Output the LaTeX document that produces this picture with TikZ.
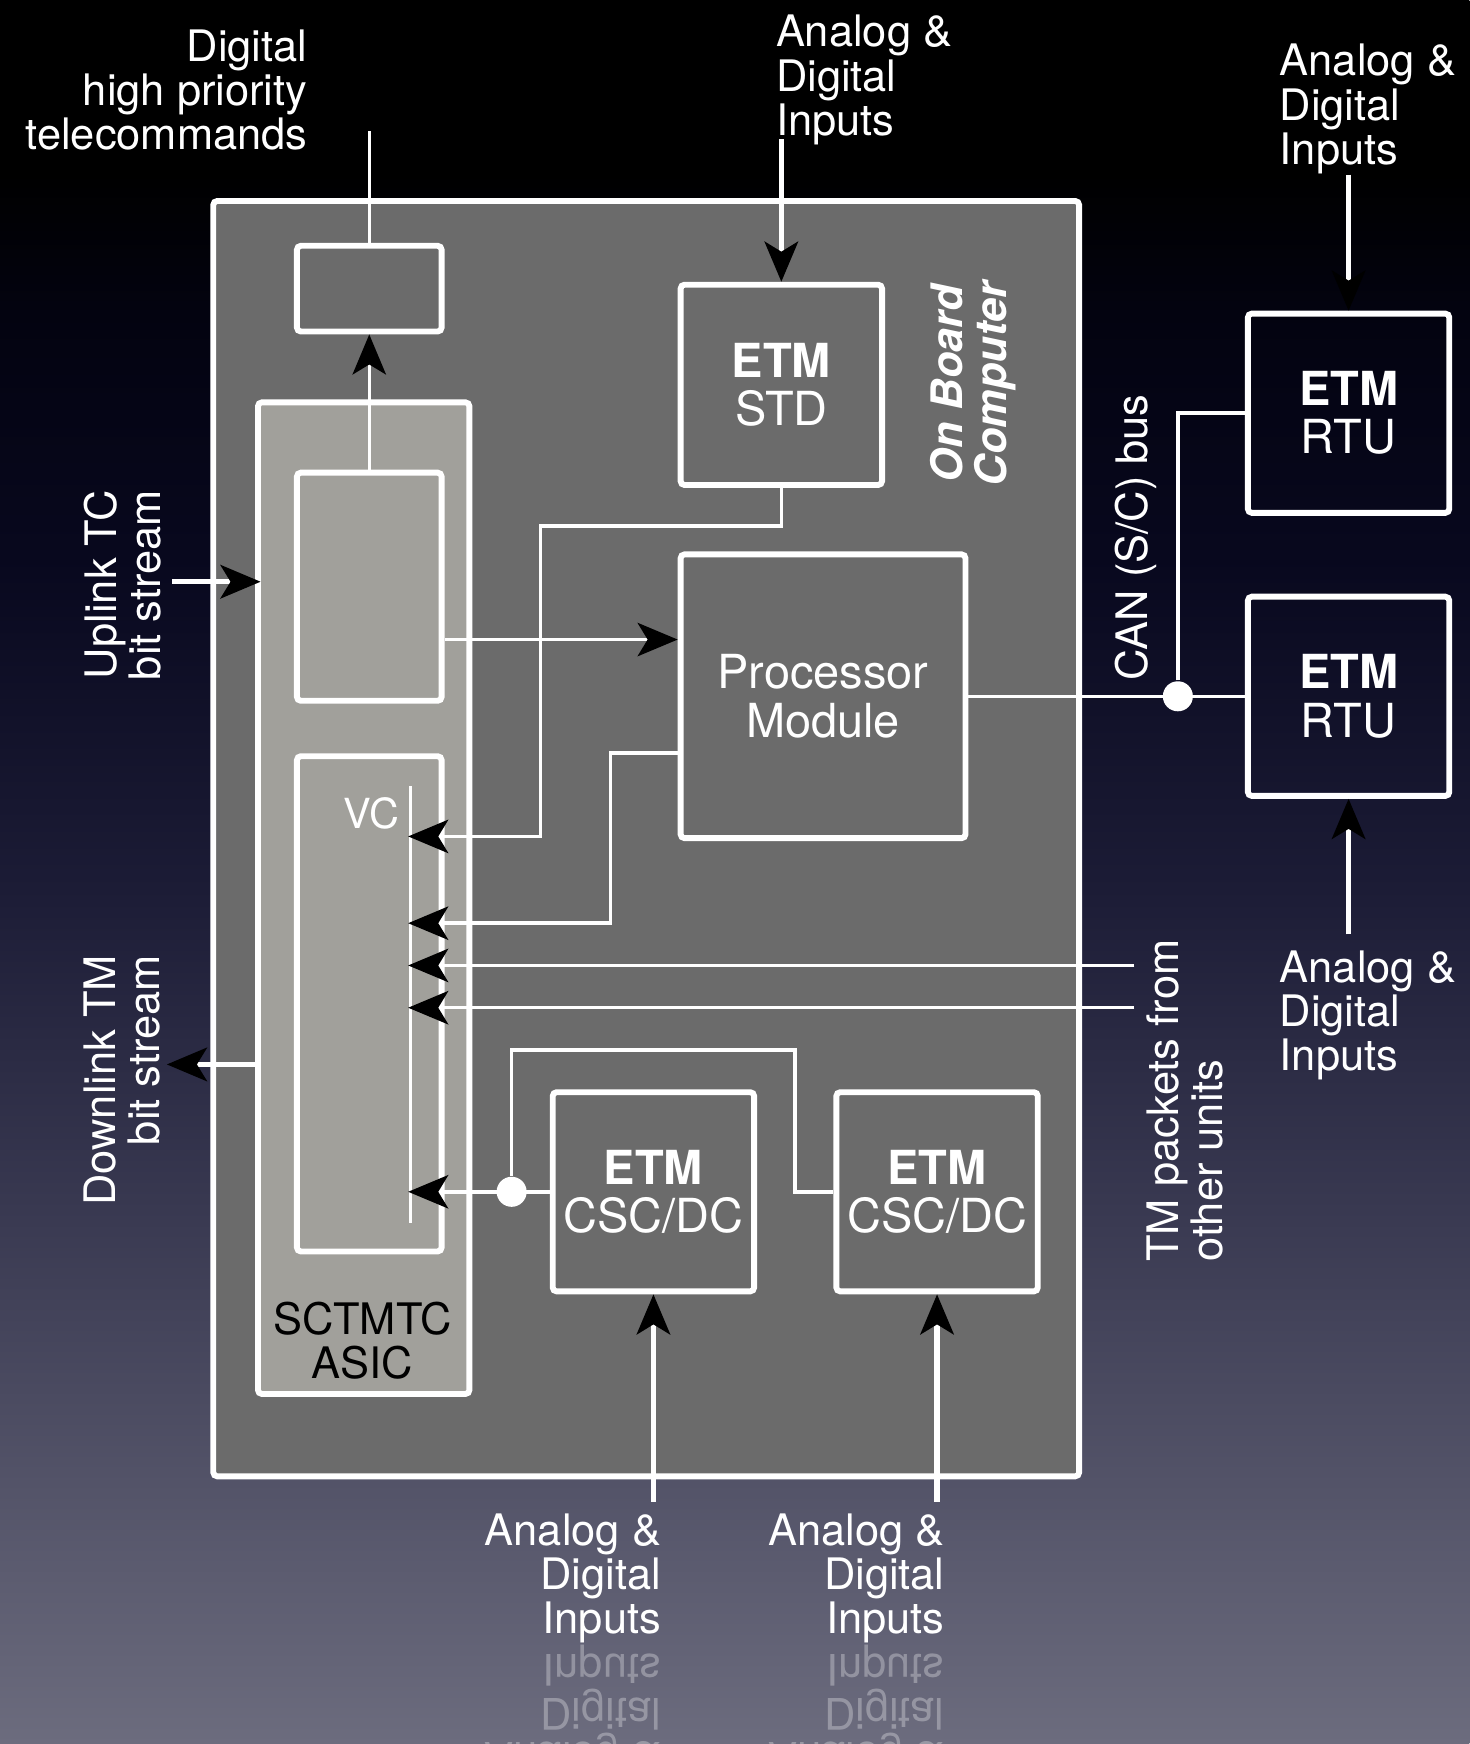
\documentclass[tikz,border=0pt]{standalone}
\usepackage{fontspec}
\setmainfont{TeX Gyre Heros}
\usepackage{tikz}
\usetikzlibrary{positioning,arrows.meta,calc}

\definecolor{obcgray}{RGB}{107,107,107}
\definecolor{asicgray}{RGB}{161,160,155}
\definecolor{bgtop}{RGB}{0,0,0}
\definecolor{bgdeep}{RGB}{3,3,16}
\definecolor{bgnavy}{RGB}{8,8,30}
\definecolor{bgmid}{RGB}{28,28,54}
\definecolor{bglow}{RGB}{58,58,82}
\definecolor{bgbot}{RGB}{108,108,126}
% the shaded path is mapped onto 25bp..75bp of the shading
\pgfdeclareverticalshading{bgshade}{100bp}{color(0bp)=(bgbot); color(25bp)=(bgbot);
  color(40bp)=(bglow); color(49.5bp)=(bgmid); color(59bp)=(bgnavy); color(66bp)=(bgdeep);
  color(70bp)=(bgtop); color(100bp)=(bgtop)}
\newcommand{\lblfont}{\fontsize{11.1}{11.3}\selectfont}
\newcommand{\boxfont}{\fontsize{12}{12.3}\selectfont}

\begin{document}
\begin{tikzpicture}[x=0.01cm, y=-0.01cm,
    every node/.style={font=\lblfont, text=white, inner sep=0pt},
    unit/.style={draw=white, line width=1.5pt, fill=obcgray, rounded corners=1pt,
                 align=center, font=\boxfont},
    conn/.style={draw=white, line width=0.9pt},
    feed/.style={draw=white, line width=1.4pt},
    tip/.style={-{Stealth[length=3.6mm, width=3mm, inset=0.9mm, color=black]}},
    dot/.style={circle, fill=white, minimum size=0.27cm}]

    % background
    \shade[shading=bgshade] (0,0) rectangle (1321,1568);
    \useasboundingbox (0,0) rectangle (1321,1568);

    % on board computer
    \node[unit, minimum width=7.78cm, minimum height=11.46cm] (obc) at (581,754) {};
    \node[rotate=90, align=center, font=\lblfont\bfseries\itshape] (obclbl) at (875,345) {On Board\\Computer};

    % SCTMTC ASIC
    \node[unit, fill=asicgray, minimum width=1.9cm, minimum height=8.91cm] (asic) at (327,807.5) {};
    \node[text=black, align=center] (asiclbl) at (326,1205) {SCTMTC\\ASIC};
    \node[unit, fill=asicgray, minimum width=1.3cm, minimum height=2.05cm] (tcu) at (332,527.5) {};
    \node[unit, fill=asicgray, minimum width=1.3cm, minimum height=4.45cm] (tmu) at (332,902.5) {};
    \node[unit, minimum width=1.3cm, minimum height=0.77cm] (hpdec) at (332,259.5) {};
    \node[anchor=east, font=\fontsize{10.6}{11}\selectfont] (vclbl) at (360,731) {VC};

    % units
    \node[unit, minimum width=1.81cm, minimum height=1.80cm] (std) at (702.5,346) {\textbf{ETM}\\STD};
    \node[unit, minimum width=2.56cm, minimum height=2.55cm] (cpu) at (740,626) {Processor\\Module};
    \node[unit, minimum width=1.81cm, minimum height=1.79cm] (csc1) at (587.5,1071.5) {\textbf{ETM}\\CSC/DC};
    \node[unit, minimum width=1.81cm, minimum height=1.79cm] (csc2) at (842.5,1071.5) {\textbf{ETM}\\CSC/DC};
    \node[unit, fill=none, minimum width=1.81cm, minimum height=1.79cm] (rtu1) at (1212.5,371.5) {\textbf{ETM}\\RTU};
    \node[unit, fill=none, minimum width=1.81cm, minimum height=1.79cm] (rtu2) at (1212.5,626) {\textbf{ETM}\\RTU};

    % labels
    \node[anchor=north east, align=right] (hplbl) at (277,26) {Digital\\high priority\\telecommands};
    \node[anchor=north west, align=left] (stdlbl) at (697,13) {Analog \&\\Digital\\Inputs};
    \node[anchor=north west, align=left] (rtu1lbl) at (1150,39) {Analog \&\\Digital\\Inputs};
    \node[anchor=north west, align=left] (rtu2lbl) at (1150,854) {Analog \&\\Digital\\Inputs};
    \node[anchor=south east, align=right] (csc1lbl) at (595,1478) {Analog \&\\Digital\\Inputs};
    \node[anchor=south east, align=right] (csc2lbl) at (850,1478) {Analog \&\\Digital\\Inputs};
    \node[anchor=south east, align=right, yscale=-1, text opacity=0.3] (csc1refl) at (595,1478) {Analog \&\\Digital\\Inputs};
    \node[anchor=south east, align=right, yscale=-1, text opacity=0.3] (csc2refl) at (850,1478) {Analog \&\\Digital\\Inputs};
    \node[rotate=90, anchor=east, align=right] (uplbl) at (110,440) {Uplink TC\\bit stream};
    \node[rotate=90, anchor=east, align=right] (downlbl) at (110,858) {Downlink TM\\bit stream};
    \node[rotate=90] (canlbl) at (1021,483) {CAN (S/C) bus};
    \node[rotate=90, anchor=west, align=left] (tmlbl) at (1065,1135) {TM packets from\\other units};

    % coordinates
    \coordinate (hptop) at (332,118);
    \coordinate (stdin) at (702.5,125);
    \coordinate (rtu1in) at (1212.5,157);
    \coordinate (rtu2in) at (1212.5,840);
    \coordinate (csc1in) at (587.5,1350);
    \coordinate (csc2in) at (842.5,1350);
    \coordinate (upin) at (155,523);
    \coordinate (downout) at (150,957);
    \coordinate (vctop) at (369,707);
    \coordinate (vcbot) at (369,1100);
    \coordinate (vc1) at (367,752);
    \coordinate (vc2) at (367,830);
    \coordinate (vc3) at (367,868);
    \coordinate (vc4) at (367,906);
    \coordinate (vc5) at (367,1071.5);
    \coordinate (tmext1) at (1020,868);
    \coordinate (tmext2) at (1020,906);

    % connectors
    \draw[conn] (vctop) -- (vcbot);
    \draw[conn] (hpdec.north) -- (hptop);
    \draw[conn, tip] (tcu.north) -- (hpdec.south);
    \draw[conn, tip] ($(tcu.east)+(0,47.5)$) -- ($(cpu.west)+(0,-51)$);
    \draw[conn, tip] (std.south) |- (486,473) |- (vc1);
    \draw[conn, tip] ($(cpu.west)+(0,51)$) -| (549,830) -- (vc2);
    \draw[conn, tip] (tmext1) -- (vc3);
    \draw[conn, tip] (tmext2) -- (vc4);
    \node[dot] (cscj) at (460,1071.5) {};
    \draw[conn, tip] (csc1.west) -- (vc5);
    \draw[conn] (cscj) |- (715,944) |- (csc2.west);
    \node[dot] (busj) at (1059,626) {};
    \draw[conn] (cpu.east) -- (rtu2.west);
    \draw[conn] (busj) |- (rtu1.west);

    \draw[feed, tip] (stdin) -- (std.north);
    \draw[feed, tip] (rtu1in) -- (rtu1.north);
    \draw[feed, tip] (rtu2in) -- (rtu2.south);
    \draw[feed, tip] (csc1in) -- (csc1.south);
    \draw[feed, tip] (csc2in) -- (csc2.south);
    \draw[feed, tip] (upin) -- ($(upin -| asic.west)+(5,0)$);
    \draw[feed, tip] (downout -| asic.west) -- (downout);
\end{tikzpicture}
\end{document}
